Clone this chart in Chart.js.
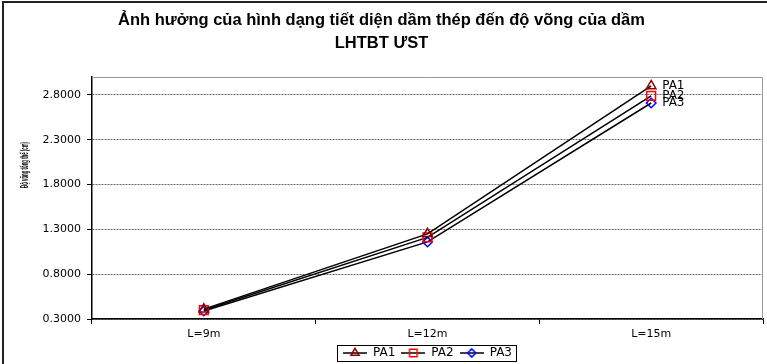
<!DOCTYPE html>
<html>
<head>
<meta charset="utf-8">
<script src="https://cdn.jsdelivr.net/npm/chart.js@4"></script>
<style>
  html, body { margin: 0; padding: 0; background: #fff; }
  #wrap { width: 767px; height: 364px; }
</style>
</head>
<body>
<div id="wrap"><canvas id="c" width="767" height="364"></canvas></div>
<script>
// Deflection of composite steel-concrete beams per span length
const categories = ['L=9m', 'L=12m', 'L=15m'];
const seriesNames = ['PA1', 'PA2', 'PA3'];
const pa1 = [0.41, 1.25, 2.90];
const pa2 = [0.40, 1.21, 2.79];
const pa3 = [0.39, 1.16, 2.71];
const yTicks = [0.3, 0.8, 1.3, 1.8, 2.3, 2.8];
const yMin = 0.3;
const yMax = 3.0;
const titleLines = ['Ảnh hưởng của hình dạng tiết diện dầm thép đến độ võng của dầm', 'LHTBT ƯST'];
const yTitle = 'Độ võng tổng thể (cm)';

const FONT = "'Liberation Sans', Arial, sans-serif";
const WIDE = "'DejaVu Sans', 'Liberation Sans', sans-serif";

const markerStyles = [
  { pointStyle: 'triangle', radius: 5.5, color: '#8b0000' },
  { pointStyle: 'rect', radius: 6.2, color: '#ff0000' },
  { pointStyle: 'rectRot', radius: 4.8, color: '#0000ff' }
];

// small legend swatches: a black line with the series marker in the middle
function makeSwatch(m) {
  const cv = document.createElement('canvas');
  cv.width = 24; cv.height = 14;
  const ctx = cv.getContext('2d');
  ctx.strokeStyle = '#000';
  ctx.lineWidth = 1.5;
  ctx.beginPath(); ctx.moveTo(0, 7); ctx.lineTo(24, 7); ctx.stroke();
  ctx.strokeStyle = m.color;
  ctx.fillStyle = 'rgba(0,0,0,0)';
  ctx.lineWidth = 1.5;
  Chart.helpers.drawPoint(ctx, { pointStyle: m.pointStyle, radius: m.radius * 0.85, rotation: 0, borderWidth: 1.5 }, 12, 7);
  return cv;
}
const swatches = markerStyles.map(makeSwatch);

const seriesValues = [pa1, pa2, pa3];
const datasets = seriesValues.map((vals, i) => ({
  label: seriesNames[i],
  data: vals,
  borderColor: '#000',
  borderWidth: 1.5,
  backgroundColor: 'rgba(0,0,0,0)',
  tension: 0,
  pointStyle: markerStyles[i].pointStyle,
  pointRadius: markerStyles[i].radius,
  pointBorderColor: markerStyles[i].color,
  pointBackgroundColor: 'rgba(0,0,0,0)',
  pointBorderWidth: 1.5
}));

const decor = {
  id: 'decor',
  afterDatasetsDraw(chart) {
    // series name next to the last point of each line
    const ctx = chart.ctx;
    ctx.save();
    ctx.font = '12px ' + WIDE;
    ctx.fillStyle = '#000';
    ctx.textAlign = 'left';
    ctx.textBaseline = 'middle';
    chart.data.datasets.forEach((ds, i) => {
      const meta = chart.getDatasetMeta(i);
      const pt = meta.data[meta.data.length - 1];
      ctx.fillText(ds.label, pt.x + 11, pt.y);
    });
    ctx.restore();
  },
  afterDraw(chart) {
    const ctx = chart.ctx;
    const a = chart.chartArea;
    ctx.save();
    // outer frame (left and top edges)
    ctx.strokeStyle = '#222';
    ctx.lineWidth = 2;
    ctx.beginPath();
    ctx.moveTo(3, chart.height); ctx.lineTo(3, 2); ctx.lineTo(chart.width, 2);
    ctx.stroke();
    // plot frame top and right
    ctx.strokeStyle = '#999';
    ctx.lineWidth = 1;
    ctx.beginPath();
    ctx.moveTo(a.left, Math.round(a.top) + 0.5);
    ctx.lineTo(Math.round(a.right) - 0.5, Math.round(a.top) + 0.5);
    ctx.lineTo(Math.round(a.right) - 0.5, a.bottom);
    ctx.stroke();
    // legend frame
    const boxes = chart.legend.legendHitBoxes;
    if (boxes && boxes.length) {
      const l = Math.min(...boxes.map(b => b.left)) - 6;
      const r = Math.max(...boxes.map(b => b.left + b.width)) + 4;
      const t = boxes[0].top - 2;
      const bt = boxes[0].top + boxes[0].height + 2;
      ctx.strokeStyle = '#000';
      ctx.lineWidth = 1;
      ctx.strokeRect(Math.round(l) + 0.5, Math.round(t) + 0.5, Math.round(r - l), Math.round(bt - t));
    }
    // vertical axis title, condensed
    ctx.font = 'bold 11px ' + FONT;
    const w = ctx.measureText(yTitle).width;
    ctx.translate(24.5, 165);
    ctx.rotate(-Math.PI / 2);
    ctx.scale(46 / w, 1);
    ctx.fillStyle = '#000';
    ctx.textAlign = 'center';
    ctx.textBaseline = 'middle';
    ctx.fillText(yTitle, 0, 0);
    ctx.restore();
  }
};

new Chart(document.getElementById('c'), {
  type: 'line',
  data: { labels: categories, datasets },
  plugins: [decor],
  options: {
    responsive: false,
    animation: false,
    devicePixelRatio: 1,
    layout: { autoPadding: false, padding: { left: 0, right: 4, top: 0, bottom: 0 } },
    plugins: {
      title: {
        display: true,
        text: titleLines,
        color: '#000',
        font: { family: FONT, size: 16.5, weight: 'bold', lineHeight: '23px' },
        padding: { top: 9, bottom: 22 }
      },
      legend: {
        position: 'bottom',
        fullSize: false,
        maxHeight: 23,
        labels: {
          usePointStyle: true,
          pointStyleWidth: 24,
          boxHeight: 12,
          padding: 6,
          color: '#000',
          font: { family: WIDE, size: 12 },
          generateLabels(chart) {
            return chart.data.datasets.map((ds, i) => ({
              text: ds.label,
              pointStyle: swatches[i],
              fontColor: '#000',
              hidden: false,
              datasetIndex: i,
              lineWidth: 0
            }));
          }
        }
      },
      tooltip: { enabled: false }
    },
    scales: {
      x: {
        type: 'category',
        offset: true,
        grid: { offset: true, drawOnChartArea: false, tickLength: 5, color: '#000', lineWidth: 1 },
        border: { color: '#000', width: 1.5 },
        ticks: { color: '#000', font: { family: WIDE, size: 11 }, padding: 4 },
        afterFit(scale) {
          scale.height = 22;
          scale.paddingLeft = 0;
          scale.paddingRight = 0;
        }
      },
      y: {
        min: yMin,
        max: yMax,
        afterBuildTicks(scale) { scale.ticks = yTicks.map(v => ({ value: v })); },
        grid: { color: '#666', lineWidth: 1, tickLength: 5, tickColor: '#000', tickWidth: 1, tickBorderDash: [] },
        border: { color: '#000', width: 1.5, dash: [2, 1] },
        ticks: {
          color: '#000',
          font: { family: WIDE, size: 11 },
          padding: 6,
          callback: v => Number(v).toFixed(4)
        },
        afterFit(scale) { scale.width = 92; }
      }
    }
  }
});
</script>
</body>
</html>
